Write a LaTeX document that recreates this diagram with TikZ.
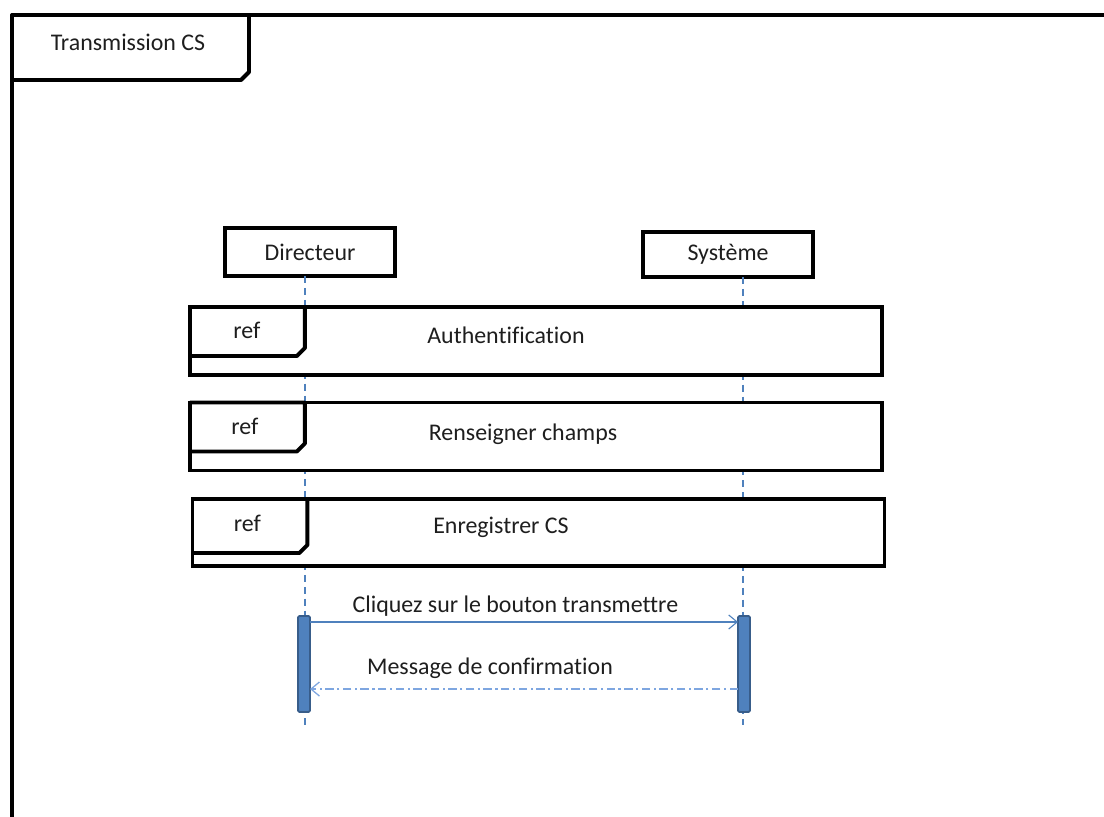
\documentclass[tikz,border=0pt]{standalone}
\usepackage{fontspec}
\setmainfont{Carlito}[Ligatures=NoCommon]
\usetikzlibrary{arrows.meta, positioning, calc}
\definecolor{lineBlue}{RGB}{79, 129, 189}
\definecolor{barBorder}{RGB}{56, 93, 138}
\definecolor{returnBlue}{RGB}{126, 166, 224}
\definecolor{textGray}{RGB}{30, 30, 30}

\begin{document}
\begin{tikzpicture}[
        x=0.025cm, y=-0.025cm,
        font=\fontsize{17}{20}\selectfont, text=textGray,
        frameline/.style={line width=2.8pt, black, line join=round},
        actor/.style={rectangle, draw=black, line width=2.6pt, fill=white, outer sep=0pt, minimum width=4.25cm, minimum height=1.2cm},
        refbox/.style={rectangle, draw=black, line width=2.6pt, fill=white, outer sep=0pt, minimum width=17.3cm, minimum height=1.7cm},
        lifeline/.style={lineBlue, line width=0.8pt, dash pattern=on 5pt off 3.5pt},
        activation/.style={rectangle, draw=barBorder, line width=1.2pt, fill=lineBlue, rounded corners=1pt, minimum width=0.3cm, minimum height=2.4cm, outer sep=0pt},
        msg/.style={lineBlue, line width=0.8pt, -{Straight Barb[length=6pt, width=10pt]}},
        reply/.style={returnBlue, line width=0.9pt, dash pattern=on 6pt off 2.5pt on 1.5pt off 2.5pt, -{Straight Barb[length=6pt, width=10pt]}}
    ]
        \useasboundingbox (0,0) rectangle (1104,816);
        \clip (0,0) rectangle (1104,816);

        % Frame
        \draw[frameline] (1120,15) -- (12,15) -- (12,830);
        \draw[frameline] (12,15) -- (249,15) -- (249,72) -- (241,80) -- (12,80) -- cycle;
        \node (title) at (128,42) {Transmission CS};

        % Lifeline heads
        \node[actor] (dir) at (310,252) {Directeur};
        \node[actor, minimum height=1.125cm] (sys) at (728,254.5) {Système};
        \coordinate (dirend) at (305,725);
        \coordinate (sysend) at (743,725);
        \draw[lifeline] (dir.south -| dirend) -- (dirend);
        \draw[lifeline] (sys.south -| sysend) -- (sysend);

        % Interaction uses
        \node[refbox] (ref1) at (536,341) {};
        \draw[frameline] (ref1.north west) -- ++(115,0) -- ++(0,41) -- ++(-8,8) -- ++(-107,0);
        \node (reftag1) at ($(ref1.north west)+(57,23)$) {ref};
        \node (auth) at (506,335) {Authentification};

        \node[refbox] (ref2) at (536,436.5) {};
        \draw[frameline] (ref2.north west) -- ++(115,0) -- ++(0,41) -- ++(-8,8) -- ++(-107,0);
        \node (reftag2) at ($(ref2.north west)+(55,24)$) {ref};
        \node (champs) at (523,434) {Renseigner champs};

        \node[refbox, minimum height=1.675cm] (ref3) at (538.5,532.5) {};
        \draw[frameline] (ref3.north west) -- ++(115,0) -- ++(0,46) -- ++(-8,8) -- ++(-107,0);
        \node (reftag3) at ($(ref3.north west)+(55,24)$) {ref};
        \node (enreg) at (501,527) {Enregistrer CS};

        % Activations
        \node[activation] (actL) at (304,664) {};
        \node[activation] (actR) at (744,664) {};

        % Messages
        \draw[msg] ([yshift=-0.15cm]actL.north east) -- ([yshift=-0.15cm]actR.north west)
            node[pos=0.48, above=0pt, text=textGray] (m1) {Cliquez sur le bouton transmettre};
        \draw[reply] ([yshift=0.575cm]actR.south west) -- ([yshift=0.575cm]actL.south east);
        \node (m2) at (490,668) {Message de confirmation};
    \end{tikzpicture}
\end{document}
